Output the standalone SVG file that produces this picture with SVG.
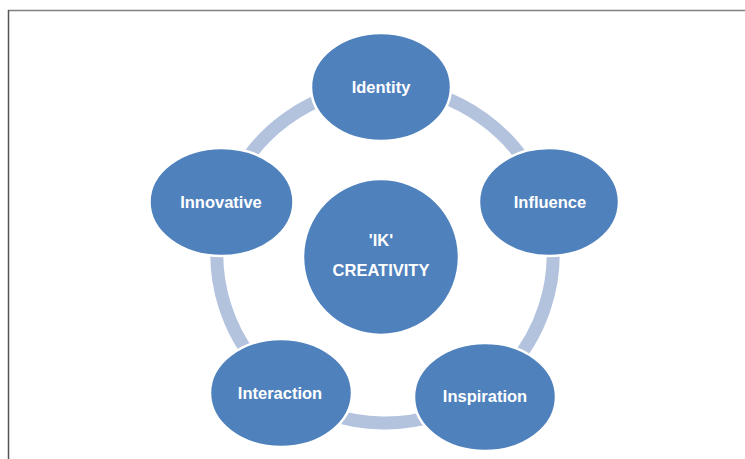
<svg xmlns="http://www.w3.org/2000/svg" width="745" height="459" viewBox="0 0 745 459">
<style>
.node{fill:#4f81bd;stroke:#ffffff;stroke-width:2.5}
.lbl{font-family:"Liberation Sans",Arial,sans-serif;font-weight:bold;font-size:16.5px;fill:#ffffff;text-anchor:middle}
.ring{fill:none;stroke:#b3c3de;stroke-width:13}
</style>
<rect width="745" height="459" fill="#ffffff"/>
<line x1="8" y1="10.5" x2="745" y2="10.5" stroke="#808080" stroke-width="1.5"/>
<line x1="8.5" y1="10" x2="8.5" y2="459" stroke="#555555" stroke-width="1.5"/>
<g id="connectors">
<path class="ring" d="M385,87 A168,168 0 0 1 544.9,203.4"/>
<path class="ring" d="M544.9,203.4 A168,168 0 0 1 481.8,392.3"/>
<path class="ring" d="M481.8,392.3 A168,168 0 0 1 283.9,389.2"/>
<path class="ring" d="M283.9,389.2 A168,168 0 0 1 225.1,203.4"/>
<path class="ring" d="M225.1,203.4 A168,168 0 0 1 385,87"/>
</g>
<g id="center">
<ellipse class="node" cx="381" cy="257" rx="78" ry="78"/>
<text class="lbl" x="381" y="246">'IK'</text>
<text class="lbl" x="381" y="276">CREATIVITY</text>
</g>
<g id="identity">
<ellipse class="node" cx="381" cy="87" rx="70" ry="54"/>
<text class="lbl" x="381" y="92.5">Identity</text>
</g>
<g id="influence">
<ellipse class="node" cx="549" cy="202" rx="70" ry="54"/>
<text class="lbl" x="550" y="207.5">Influence</text>
</g>
<g id="inspiration">
<ellipse class="node" cx="485" cy="397" rx="71" ry="54"/>
<text class="lbl" x="485" y="402">Inspiration</text>
</g>
<g id="interaction">
<ellipse class="node" cx="281" cy="393" rx="71" ry="54"/>
<text class="lbl" x="280" y="398.5">Interaction</text>
</g>
<g id="innovative">
<ellipse class="node" cx="221.5" cy="202" rx="72" ry="54"/>
<text class="lbl" x="221" y="207.5">Innovative</text>
</g>
</svg>
